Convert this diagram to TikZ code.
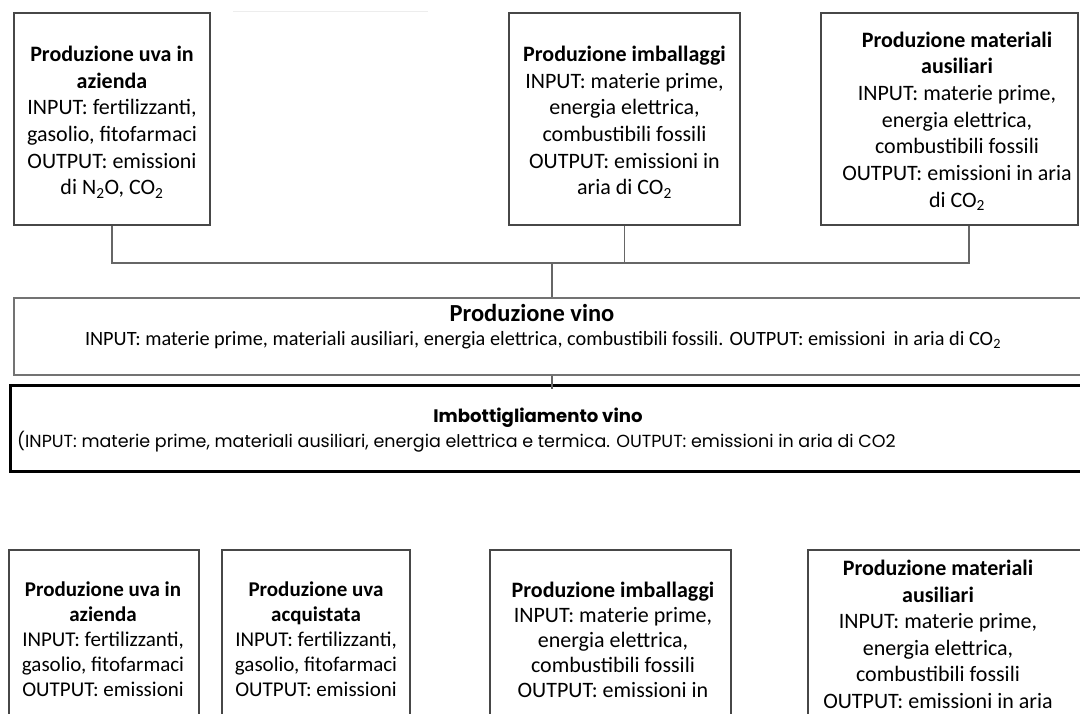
\documentclass[tikz,border=0pt]{standalone}
\usepackage{fontspec}
\setmainfont{Carlito}
\newfontfamily\gothic{Poppins}
\begin{document}
\begin{tikzpicture}[x=1pt,y=-1pt,
  box/.style={draw=black!72,line width=1.6pt,inner sep=0pt},
  conn/.style={draw=black!60,line width=1.3pt},
  topfont/.style={font=\fontsize{22}{26.7}\selectfont},
  txt/.style={inner sep=0pt,align=center}]
\useasboundingbox (0,0) rectangle (1080,713);
\clip (0,0) rectangle (1080,713);
% faint line at top
\draw[black!7,line width=1pt] (233,11) -- (428,11);
% top row
\node[box,minimum width=196pt,minimum height=212pt] (b1) at (112,119) {};
\node[txt,topfont] (t1) at (112,122)
  {\textbf{Produzione uva in}\\\textbf{azienda}\\INPUT: fertilizzanti,\\gasolio, fitofarmaci\\OUTPUT: emissioni\\di N\textsubscript{2}O, CO\textsubscript{2}};
\node[box,minimum width=231pt,minimum height=212pt] (b2) at (624.5,119) {};
\node[txt,topfont] (t2) at (624.5,122)
  {\textbf{Produzione imballaggi}\\INPUT: materie prime,\\energia elettrica,\\combustibili fossili\\OUTPUT: emissioni in\\aria di CO\textsubscript{2}};
\node[box,minimum width=257pt,minimum height=212pt] (b3) at (949.5,119) {};
\node[txt,topfont] (t3) at (957,121)
  {\textbf{Produzione materiali}\\\textbf{ausiliari}\\INPUT: materie prime,\\energia elettrica,\\combustibili fossili\\OUTPUT: emissioni in aria\\di CO\textsubscript{2}};
% Produzione vino
\node[draw=black!55,line width=2pt,inner sep=0pt,minimum width=1076pt,minimum height=77pt] (vino) at (552,336.5) {};
\node[txt,font=\fontsize{24.5}{28}\selectfont\bfseries] (tvino) at (532,313) {Produzione vino};
\node[txt,font=\fontsize{20.3}{24}\selectfont] (tvino2) at (543,340)
  {INPUT: materie prime, materiali ausiliari, energia elettrica, combustibili fossili. OUTPUT: emissioni\, in aria di CO\textsubscript{2}};
% connectors
\coordinate (j3) at (969,263);
\draw[conn] (b1.south) -- (b1.south |- j3) -- (j3) -- (j3 |- b3.south);
\draw[conn] (b2.south) -- (b2.south |- j3);
\draw[conn] (vino.north) -- (vino.north |- j3);
% Imbottigliamento
\node[draw=black,line width=3pt,inner sep=0pt,minimum width=1080pt,minimum height=86pt] (imb) at (550,428) {};
\draw[conn] (vino.south) -- ([yshift=-5pt]vino.south |- imb.north);
\node[txt,font=\gothic\fontsize{18.1}{21}\selectfont\bfseries] (timb) at (538,418) {Imbottigliamento vino};
\node[inner sep=0pt,anchor=west,font=\gothic\fontsize{17.5}{21}\selectfont] (timb2) at (17,442)
  {(INPUT: materie prime, materiali ausiliari, energia elettrica e termica. OUTPUT: emissioni in aria di CO2};
% bottom row
\node[box,minimum width=190pt,minimum height=200pt] (c1) at (104,650) {};
\node[box,minimum width=188pt,minimum height=200pt] (c2) at (316,650) {};
\node[box,minimum width=241pt,minimum height=200pt] (c3) at (610.5,650) {};
\node[box,minimum width=282pt,minimum height=200pt] (c4) at (949,650) {};
\node[txt,font=\fontsize{21}{25}\selectfont,anchor=north] (tc1) at (103,582)
  {\textbf{Produzione uva in}\\\textbf{azienda}\\INPUT: fertilizzanti,\\gasolio, fitofarmaci\\OUTPUT: emissioni};
\node[txt,font=\fontsize{21}{25}\selectfont,anchor=north] (tc2) at (316,582)
  {\textbf{Produzione uva}\\\textbf{acquistata}\\INPUT: fertilizzanti,\\gasolio, fitofarmaci\\OUTPUT: emissioni};
\node[txt,font=\fontsize{22}{25}\selectfont,anchor=north] (tc3) at (613,582)
  {\textbf{Produzione imballaggi}\\INPUT: materie prime,\\energia elettrica,\\combustibili fossili\\OUTPUT: emissioni in};
\node[txt,font=\fontsize{22}{26.5}\selectfont,anchor=north] (tc4) at (938,560)
  {\textbf{Produzione materiali}\\\textbf{ausiliari}\\INPUT: materie prime,\\energia elettrica,\\combustibili fossili\\OUTPUT: emissioni in aria};
\end{tikzpicture}
\end{document}
